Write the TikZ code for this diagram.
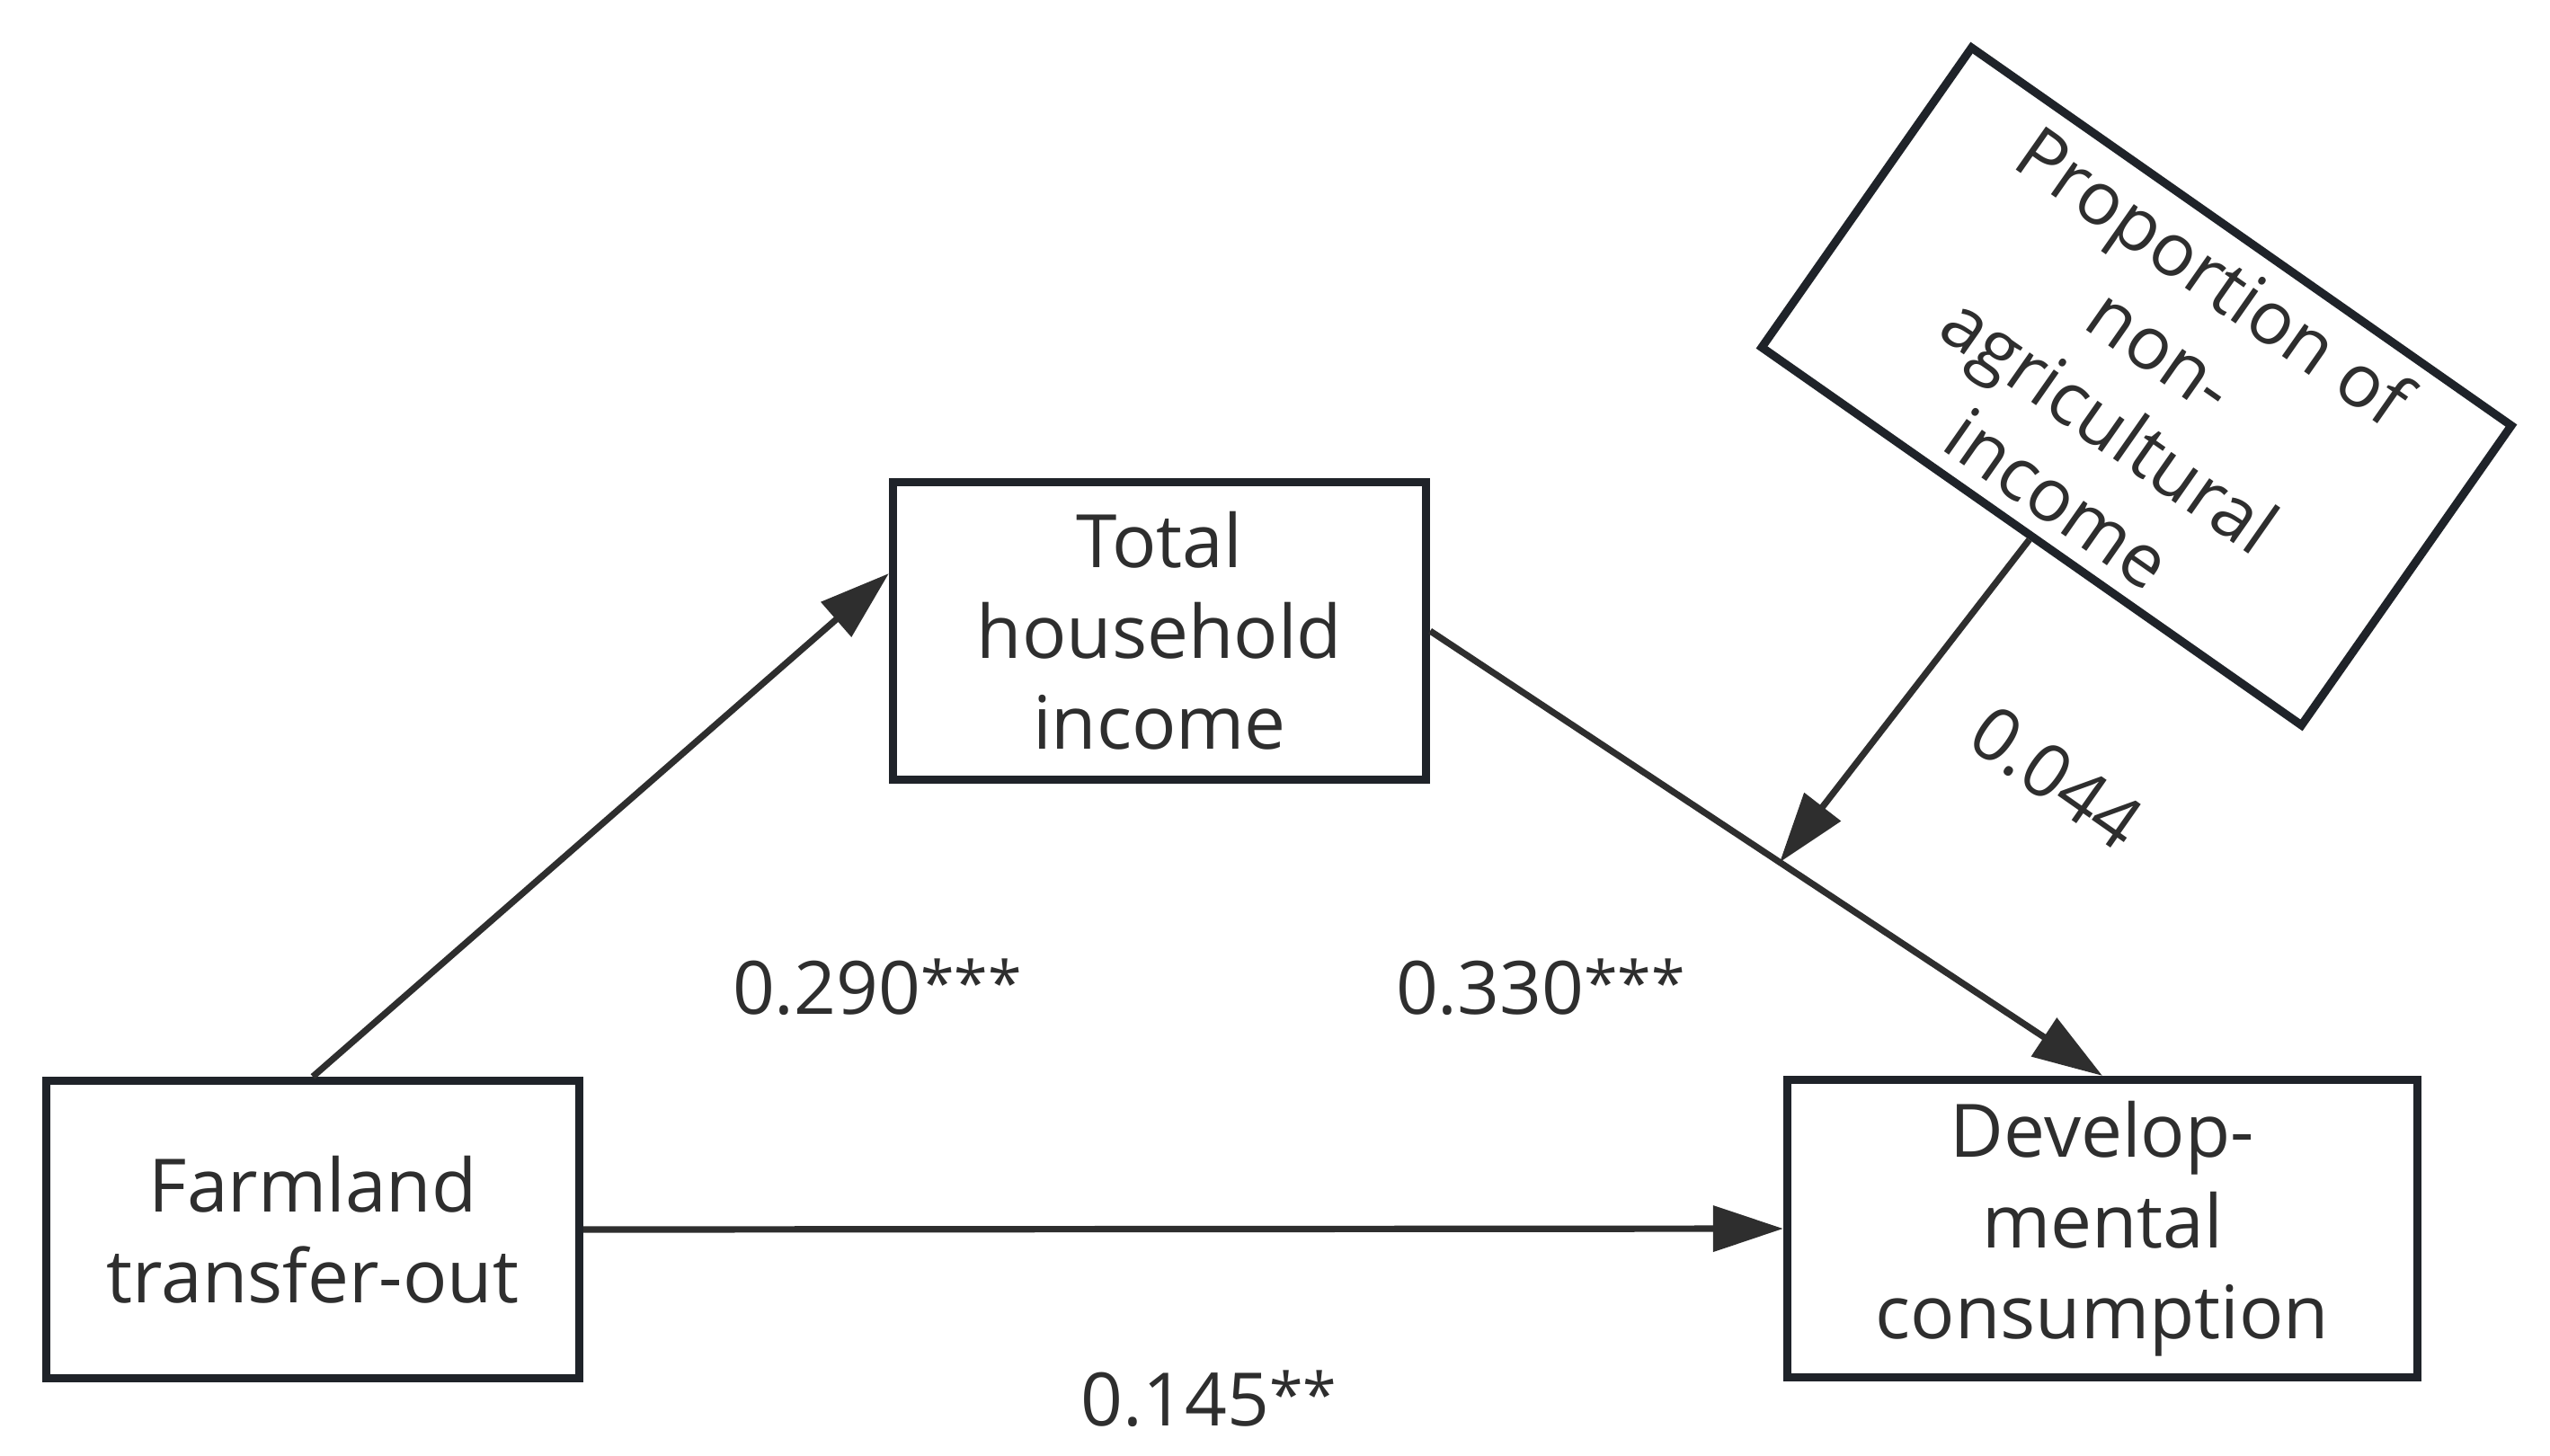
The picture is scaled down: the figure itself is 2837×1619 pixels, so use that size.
\documentclass[tikz,border=0pt]{standalone}
\usepackage{fontspec}
\setmainfont{Open Sans}
\usetikzlibrary{arrows.meta,calc}
\definecolor{boxline}{HTML}{1F2329}
\definecolor{arrowc}{HTML}{2E2E2E}
\definecolor{txt}{HTML}{2E2E2E}
\newcommand{\stars}[1]{\raisebox{2.5pt}{\fontsize{17}{17}\selectfont #1}}
\begin{document}
\begin{tikzpicture}[x=0.25pt,y=-0.25pt,
  box/.style={draw=boxline, line width=2.3pt, inner sep=0pt, align=center, text=txt,
    font=\fontsize{20.5}{25.2}\selectfont},
  conn/.style={draw=arrowc, line width=1.8pt, -{Triangle[length=19.5pt,width=12.5pt]}},
  lab/.style={text=txt, inner sep=0pt, font=\fontsize{20.5}{25.2}\selectfont}]
\useasboundingbox (0,0) rectangle (2837,1619);
\node[box, minimum width=148.25pt, minimum height=82.75pt] (farm) at (348,1368) {Farmland\\transfer-out};
\node[box, minimum width=148.25pt, minimum height=82.75pt] (thi) at (1290,702) {Total\\household\\income};
\node[box, minimum width=175.25pt, minimum height=82.75pt] (dev) at (2339,1367) {Develop-\\mental\\consumption};
\node[box, minimum width=183.25pt, minimum height=101.75pt, rotate=-35] (prop) at (2377,430) {Proportion of\\non-\\agricultural\\income};
\coordinate (mod) at ($(thi.east)!0.52!(dev.north)$);
\draw[conn] (farm.north) -- (thi.168);
\draw[conn] (farm.east) -- (dev.west);
\draw[conn] (thi.east) -- (dev.north);
\draw[conn] (prop.south) -- (mod);
\node[lab] (l1) at (976,1098) {0.290\stars{***}};
\node[lab] (l2) at (1714,1098) {0.330\stars{***}};
\node[lab] (l3) at (1345,1556) {0.145\stars{**}};
\node[lab, rotate=-35] (l4) at (2288,865) {0.044};
\end{tikzpicture}
\end{document}
